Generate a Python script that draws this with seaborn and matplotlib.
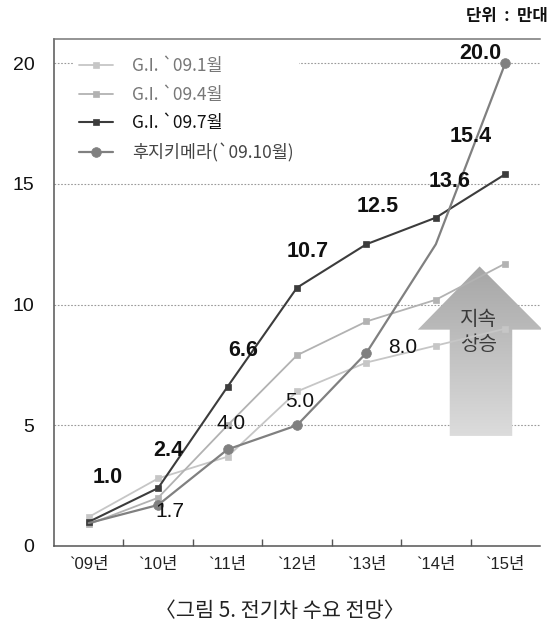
"""Electric vehicle demand forecast line chart (그림 5)."""

import matplotlib
matplotlib.use("Agg")

import matplotlib.pyplot as plt
import numpy as np
import pandas as pd
import seaborn as sns
from matplotlib.colors import LinearSegmentedColormap
from matplotlib.patches import Polygon

# Data (unit: 10k vehicles)
years = ["`09년", "`10년", "`11년", "`12년", "`13년", "`14년", "`15년"]
gi_0901 = [1.2, 2.8, 3.7, 6.4, 7.6, 8.3, 9.0]
gi_0904 = [0.9, 2.0, 5.0, 7.9, 9.3, 10.2, 11.7]
gi_0907 = [1.0, 2.4, 6.6, 10.7, 12.5, 13.6, 15.4]
fuji_0910 = [0.95, 1.7, 4.0, 5.0, 8.0, 12.5, 20.0]
series_names = ["G.I. `09.1월", "G.I. `09.4월", "G.I. `09.7월", "후지키메라(`09.10월)"]

y_ticks = [0, 5, 10, 15, 20]

sns.set_theme(style="white")
plt.rcParams["font.family"] = ["Liberation Sans", "Noto Sans CJK KR"]

fig = plt.figure(figsize=(5.53, 6.33), dpi=100)
ax = fig.add_axes([54 / 553, 87 / 633, 486 / 553, 507 / 633])

pos = list(range(len(years)))

# Series styling
styles = [
    (gi_0901, "#c6c6c6", "s", 4.2, 1.3, None),
    (gi_0904, "#b2b2b2", "s", 4.2, 1.3, None),
    (gi_0907, "#3c3c3c", "s", 4.8, 1.5, None),
    (fuji_0910, "#808080", "o", 7.0, 1.6, [1, 2, 3, 4, 6]),
]
for name, (vals, color, marker, ms, lw, every) in zip(series_names, styles):
    df = pd.DataFrame({"year": pos, "value": vals})
    sns.lineplot(
        data=df, x="year", y="value", ax=ax, color=color, marker=marker,
        markersize=ms, markeredgecolor=color, markeredgewidth=0.5,
        linewidth=lw, label=name, markevery=every, zorder=3,
    )

# Value labels for the G.I. `09.7 series (bold)
dark_offsets = [(19, 44), (10, 38), (16, 36), (11, 36), (11, 38), (14, 36), (-35, 38)]
for i, (v, off) in enumerate(zip(gi_0907, dark_offsets)):
    ax.annotate(f"{v:.1f}", (i, v), xytext=off, textcoords="offset pixels",
                ha="center", va="center", fontsize=15.5, fontweight="bold",
                color="#111111", zorder=5)

# Value labels for the Fuji Chimera series
fuji_labels = {1: (12, -7), 2: (3, 26), 3: (3, 24), 4: (36, 5), 6: (-25, 10)}
for i, off in fuji_labels.items():
    v = fuji_0910[i]
    ax.annotate(f"{v:.1f}", (i, v), xytext=off, textcoords="offset pixels",
                ha="center", va="center", fontsize=15 if i != 6 else 15.5,
                fontweight="bold" if i == 6 else "normal",
                color="#111111", zorder=5)

# Big gradient arrow "지속 상승"
arrow_pts = [(5.20, 4.56), (5.20, 8.96), (4.74, 8.96), (5.63, 11.58),
             (6.54, 8.96), (6.10, 8.96), (6.10, 4.56)]
poly = Polygon(arrow_pts, closed=True, facecolor="none", edgecolor="none",
               transform=ax.transData)
ax.add_patch(poly)
grad_cmap = LinearSegmentedColormap.from_list("arrow", ["#a6a6a6", "#dcdcdc"])
im = ax.imshow(np.linspace(0, 1, 256).reshape(-1, 1), cmap=grad_cmap,
               extent=(4.74, 6.54, 4.56, 11.58), origin="upper",
               aspect="auto", zorder=2)
im.set_clip_path(poly)
im.set_clip_box(None)
ax.text(5.62, 8.88, "지속\n상승", ha="center", va="center", fontsize=14.5,
        color="#3a3a3a", linespacing=1.25, family="Noto Sans CJK KR", zorder=2.5)

# Axes
ax.set_xlim(-0.5, 6.5)
ax.set_ylim(0, 21)
ax.set_xticks(pos)
ax.set_xticklabels(years, fontsize=12, color="#222222")
ax.set_xticks([p + 0.5 for p in pos[:-1]], minor=True)
ax.set_yticks(y_ticks)
ax.set_yticklabels([str(t) for t in y_ticks], fontsize=14, color="#111111")
ax.tick_params(axis="x", which="major", length=0, pad=8)
ax.tick_params(axis="x", which="minor", direction="in", length=5, width=1,
               color="#555555", bottom=True)
ax.tick_params(axis="y", length=0, pad=14)
ax.set_xlabel("")
ax.set_ylabel("")

ax.yaxis.grid(True, linestyle=(0, (1.5, 1.5)), color="#9a9a9a", linewidth=0.8)
ax.xaxis.grid(False)
ax.set_axisbelow(True)

for side in ["left", "bottom"]:
    ax.spines[side].set_color("#555555")
    ax.spines[side].set_linewidth(1.1)
ax.spines["top"].set_color("#777777")
ax.spines["top"].set_linewidth(1.1)
ax.spines["right"].set_visible(False)

# Legend
handles, labels = ax.get_legend_handles_labels()
leg = ax.legend(handles, labels, loc="upper left", bbox_to_anchor=(0.04, 0.975),
                frameon=True, facecolor="white", edgecolor="none", fancybox=False,
                framealpha=1, prop={"family": "Noto Sans CJK KR", "size": 12.5},
                labelspacing=0.62, handlelength=2.0, handletextpad=1.1,
                borderpad=0.3, borderaxespad=0)
for text, c in zip(leg.get_texts(), ["#777777", "#777777", "#111111", "#444444"]):
    text.set_color(c)

# Unit and caption
fig.text(548 / 553, 1 - 16 / 633, "단위  :  만대", ha="right", va="center",
         fontsize=12, fontweight="bold", family="Noto Sans CJK KR", color="#111111")
fig.text(280 / 553, 1 - 611 / 633, "〈그림 5. 전기차 수요 전망〉", ha="center",
         va="center", fontsize=15, family="Noto Sans CJK KR", color="#222222")

fig.savefig("out.png", dpi=100)
plt.close(fig)
